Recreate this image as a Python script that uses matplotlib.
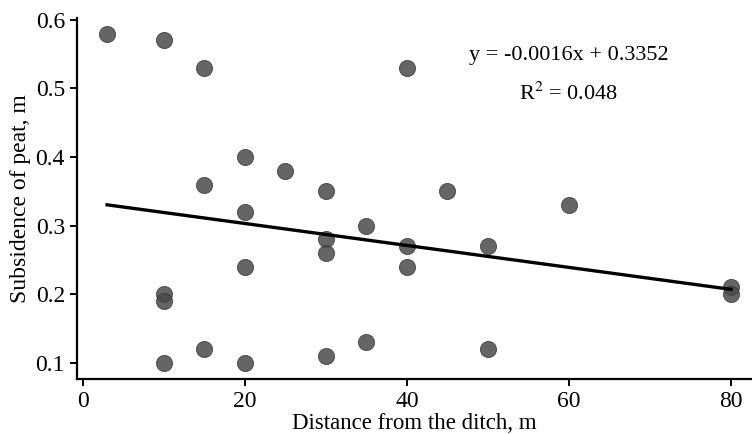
import matplotlib
matplotlib.use("Agg")
import matplotlib.pyplot as plt
import numpy as np

# distance from the ditch (m) and peat subsidence (m)
distance = [3, 10, 15, 40, 20, 25, 15, 30, 45, 60, 20, 35, 30, 40, 50,
            30, 20, 40, 10, 10, 80, 80, 15, 35, 50, 10, 20, 30]
subsidence = [0.58, 0.57, 0.53, 0.53, 0.40, 0.38, 0.36, 0.35, 0.35, 0.33, 0.32, 0.30, 0.28, 0.27, 0.27,
              0.26, 0.24, 0.24, 0.20, 0.19, 0.21, 0.20, 0.12, 0.13, 0.12, 0.10, 0.10, 0.11]

# linear trend
slope = -0.0016
intercept = 0.3352
r2 = 0.048
x_fit = [3, 80]

plt.rcParams['font.family'] = ['Liberation Serif', 'DejaVu Serif']
plt.rcParams['mathtext.fontset'] = 'stix'

fig = plt.figure(figsize=(7.52, 4.34), dpi=100)
ax = fig.add_axes([0.102, 0.127, 0.898, 0.832])

ax.scatter(distance, subsidence, s=135, color='#4a4a4a', alpha=0.85,
           edgecolors='#333333', linewidths=0.6, zorder=3)
y_fit = [slope * x + intercept for x in x_fit]
ax.plot(x_fit, y_fit, color='black', lw=2.4, zorder=4)

ax.set_xlim(-0.75, 82.6)
ax.set_ylim(0.0767, 0.603)
ax.set_xticks([0, 20, 40, 60, 80])
ax.set_yticks([0.1, 0.2, 0.3, 0.4, 0.5, 0.6])
ax.set_yticklabels(['0.1', '0.2', '0.3', '0.4', '0.5', '0.6'])

for side in ['top', 'right']:
    ax.spines[side].set_visible(False)
for side in ['left', 'bottom']:
    ax.spines[side].set_linewidth(1.6)
ax.tick_params(labelsize=17, width=1.4, length=5, colors='black')

ax.set_xlabel('Distance from the ditch, m', fontsize=16.5, labelpad=1)
ax.set_ylabel('Subsidence of peat, m', fontsize=17, labelpad=3)

ax.text(0.728, 0.895, 'y = -0.0016x + 0.3352', transform=ax.transAxes,
        fontsize=16, ha='center', va='center')
ax.text(0.728, 0.79, 'R$^2$ = 0.048', transform=ax.transAxes,
        fontsize=16, ha='center', va='center')

fig.savefig('out.png', dpi=100)
